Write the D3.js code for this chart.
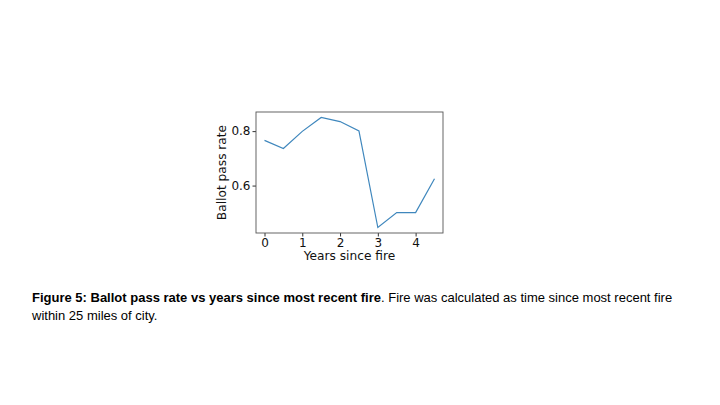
<!DOCTYPE html>
<html>
<head>
<meta charset="utf-8">
<script src="https://cdn.jsdelivr.net/npm/d3@7"></script>
<style>
  body { margin: 0; background: #fff; }
  svg { display: block; }
  .tick text { font-family: "DejaVu Sans", sans-serif; font-size: 12px; fill: #111; }
  .axis-label { font-family: "DejaVu Sans", sans-serif; font-size: 12.2px; fill: #111; }
  .caption { font-family: "Liberation Sans", Arial, sans-serif; font-size: 13px; fill: #000; }
</style>
</head>
<body>
<svg width="720" height="405"></svg>
<script>
// data
years = [0, 0.5, 1, 1.5, 2, 2.5, 3, 3.5, 4, 4.5];
passRate = [0.766, 0.736, 0.799, 0.85, 0.835, 0.801, 0.446, 0.501, 0.501, 0.625];
xTicks = [0, 1, 2, 3, 4];
yTicks = [0.6, 0.8];

svg = d3.select('svg');

// plot frame (window.top is read-only, so use other names)
plotLeft = 256; plotRight = 443; plotTop = 112; plotBottom = 233;

// matplotlib style 5% padding on the data range
xPad = (d3.max(years) - d3.min(years)) * 0.05;
yPad = (d3.max(passRate) - d3.min(passRate)) * 0.05;

x = d3.scaleLinear()
  .domain([d3.min(years) - xPad, d3.max(years) + xPad])
  .range([plotLeft, plotRight]);

y = d3.scaleLinear()
  .domain([d3.min(passRate) - yPad, d3.max(passRate) + yPad])
  .range([plotBottom, plotTop]);

// axes
svg.append('g')
  .attr('transform', `translate(0,${plotBottom})`)
  .call(d3.axisBottom(x).tickValues(xTicks).tickFormat(d3.format('d')).tickSizeOuter(0).tickSize(3.5).tickPadding(1.5))
  .call(g => g.select('.domain').remove());

svg.append('g')
  .attr('transform', `translate(${plotLeft},0)`)
  .call(d3.axisLeft(y).tickValues(yTicks).tickFormat(d3.format('.1f')).tickSizeOuter(0).tickSize(3.5).tickPadding(2))
  .call(g => g.select('.domain').remove());

svg.selectAll('.tick line').attr('stroke', '#333');

// frame
svg.append('rect')
  .attr('x', plotLeft).attr('y', plotTop)
  .attr('width', plotRight - plotLeft).attr('height', plotBottom - plotTop)
  .attr('fill', 'none').attr('stroke', '#555').attr('stroke-width', 0.9);

// the line
line = d3.line()
  .x((d, i) => x(years[i]))
  .y(d => y(d));

svg.append('path')
  .datum(passRate)
  .attr('d', line)
  .attr('fill', 'none')
  .attr('stroke', '#3f87bd')
  .attr('stroke-width', 1.2);

// axis labels
svg.append('text')
  .attr('class', 'axis-label')
  .attr('x', (plotLeft + plotRight) / 2)
  .attr('y', 259.5)
  .attr('text-anchor', 'middle')
  .text('Years since fire');

svg.append('text')
  .attr('class', 'axis-label')
  .attr('transform', `translate(226,${(plotTop + plotBottom) / 2}) rotate(-90)`)
  .attr('text-anchor', 'middle')
  .text('Ballot pass rate');

// caption
cap = svg.append('text').attr('class', 'caption').attr('x', 32).attr('y', 302.3);
cap.append('tspan').attr('font-weight', 'bold').text('Figure 5: Ballot pass rate vs years since most recent fire');
cap.append('tspan').text('. Fire was calculated as time since most recent fire');
svg.append('text').attr('class', 'caption').attr('x', 32).attr('y', 319.5)
  .text('within 25 miles of city.');
</script>
</body>
</html>
